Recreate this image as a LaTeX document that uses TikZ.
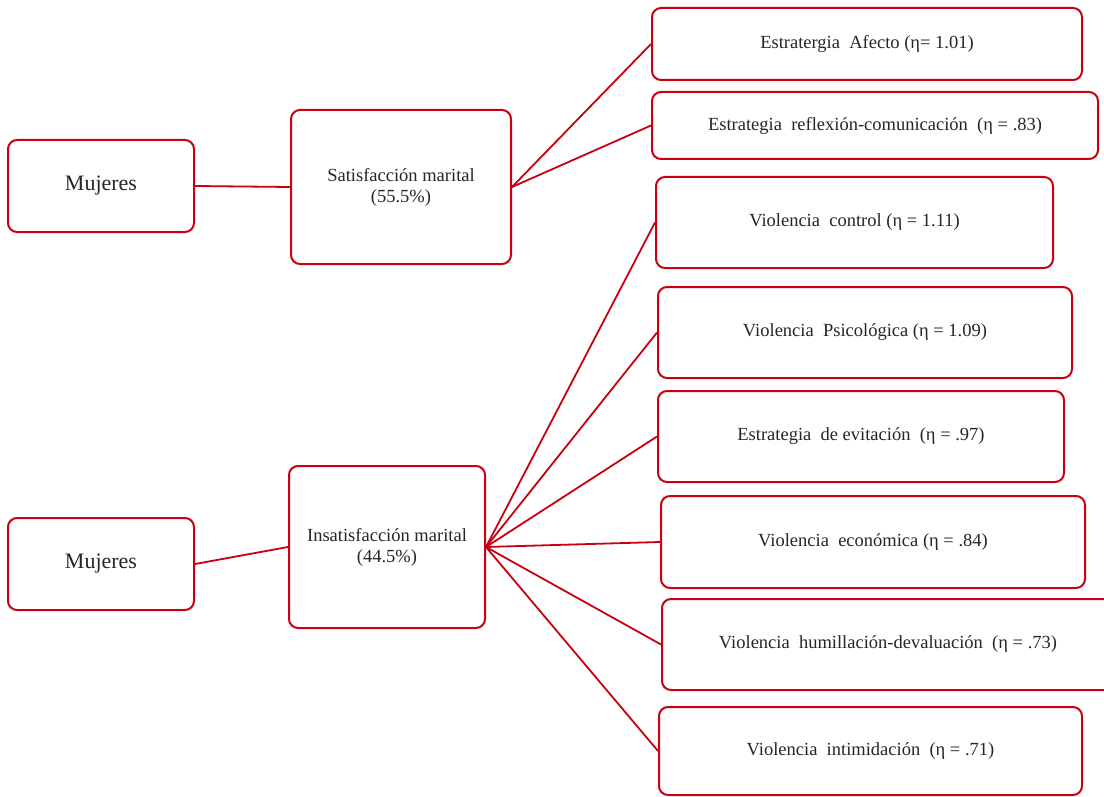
\documentclass[tikz,border=0pt]{standalone}
\usepackage{fontspec}
\setmainfont{Liberation Serif}
\definecolor{boxred}{RGB}{200,0,16}
\begin{document}
\begin{tikzpicture}[x=1pt,y=-1pt,
  box/.style={draw=boxred, line width=2pt, rounded corners=9pt, fill=white, inner sep=0pt, align=center, text=black!85, font=\fontsize{18.5}{21}\selectfont},
  big/.style={font=\fontsize{22}{25}\selectfont},
  link/.style={draw=boxred, line width=1.8pt}]
\useasboundingbox (0,0) rectangle (1104,797);
\def\bx#1#2#3#4#5#6#7{\node[box, #7, minimum width=#4-#2, minimum height=#5-#3] (#1) at ({(#2+#4)/2},{(#3+#5)/2}) {#6};}
\bx{m1}{8}{140}{194}{232}{Mujeres}{big}
\bx{sat}{291}{110}{511}{264}{Satisfacción marital\\(55.5\%)}{}
\bx{m2}{8}{518}{194}{610}{Mujeres}{big}
\bx{ins}{289}{466}{485}{628}{Insatisfacción marital\\(44.5\%)}{}
\bx{afe}{652}{8}{1082}{80}{Estratergia~ Afecto (η= 1.01)}{}
\bx{ref}{652}{92}{1098}{159}{Estrategia~ reflexión-comunicación~ (η = .83)}{}
\bx{con}{656}{177}{1053}{268}{Violencia~ control (η = 1.11)}{}
\bx{psi}{658}{287}{1072}{378}{Violencia~ Psicológica (η = 1.09)}{}
\bx{evi}{658}{391}{1064}{482}{Estrategia~ de evitación~ (η = .97)}{}
\bx{eco}{661}{496}{1085}{588}{Violencia~ económica (η = .84)}{}
\bx{hum}{662}{599}{1114}{690}{Violencia~ humillación-devaluación~ (η = .73)}{}
\bx{int}{659}{707}{1082}{795}{Violencia~ intimidación~ (η = .71)}{}
\draw[link] (m1.east) -- (sat.west);
\draw[link] (m2.east) -- (ins.west);
\foreach \t in {afe,ref} \draw[link] (sat.east) -- (\t.west);
\foreach \t in {con,psi,evi,eco,hum,int} \draw[link] (ins.east) -- (\t.west);
\end{tikzpicture}
\end{document}
